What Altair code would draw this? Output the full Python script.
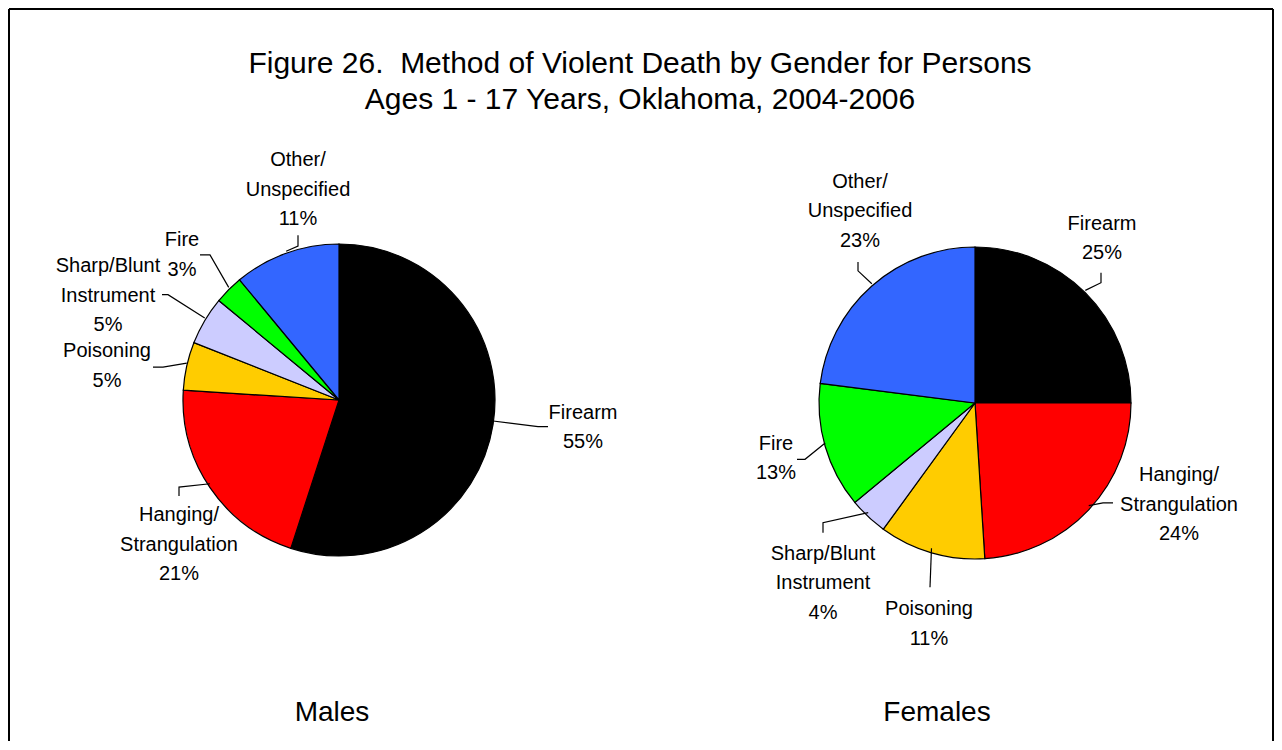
import altair as alt
import pandas as pd
import numpy as np

# ---------------- data ----------------
methods = ["Firearm", "Hanging/Strangulation", "Poisoning",
           "Sharp/Blunt Instrument", "Fire", "Other/Unspecified"]
label_text = ["Firearm", "Hanging/\nStrangulation", "Poisoning",
              "Sharp/Blunt\nInstrument", "Fire", "Other/\nUnspecified"]
males_pct = [55, 21, 5, 5, 3, 11]
females_pct = [25, 24, 11, 4, 13, 23]
colors = ["#000000", "#FF0000", "#FFCC00", "#CCCCFF", "#00FF00", "#3366FF"]
genders = ["Males", "Females"]
title_lines = ["Figure 26.\u00a0\u00a0Method of Violent Death by Gender for Persons",
               "Ages 1 - 17 Years, Oklahoma, 2004-2006"]

# ---------------- layout (canvas pixels) ----------------
W, H = 1266, 734
OFF = 8
R = 156
centers = {"Males": (339 - OFF, 400 - OFF), "Females": (975 - OFF, 403 - OFF)}
# label centre x and first-line baseline (page px)
label_pos = {
    "Males": [(583, 422), (179, 525), (107, 360), (108, 274), (182, 248), (298, 167)],
    "Females": [(1102, 231), (1179, 485), (929, 620), (823, 564), (776, 453), (860, 189)],
}
# leader line elbow and end (page px)
leader_pts = {
    "Males": [((538, 430), (548, 430)), ((179, 491), (179, 500)), ((163, 370), (153, 370)),
              ((168, 297), (162, 297)), ((210, 257), (200, 257)), ((298, 248), (298, 237))],
    "Females": [((1101, 285), (1101, 275)), ((1103, 507), (1113, 507)), ((930, 592), (930, 592)),
                ((823, 527), (823, 537)), ((805, 463), (797, 463)), ((858, 273), (858, 264))],
}
group_lbl = {"Males": (332, 727), "Females": (937, 727)}
LABEL_FS = 20
LABEL_LH = 29.5

# ---------------- tables ----------------
pie_rows, lab_rows, line_rows = [], [], []
for g, vals in zip(genders, [males_pct, females_pct]):
    cx, cy = centers[g]
    cum = 0
    for i, (m, lt, v) in enumerate(zip(methods, label_text, vals)):
        pie_rows.append({"gender": g, "method": m, "pct": v, "idx": i})
        mid = (cum + v / 2) / 100 * 2 * np.pi
        cum += v
        ex, ey = cx + R * np.sin(mid), cy - R * np.cos(mid)
        lx, ly = label_pos[g][i]
        lab_rows.append({"gender": g, "text": f"{lt}\n{v}%",
                         "x": lx - OFF, "y": ly - OFF - 0.79 * LABEL_FS})
        (bx, by), (tx, ty) = leader_pts[g][i]
        key = f"{g}-{i}"
        for s, (px, py) in enumerate([(ex, ey), (bx - OFF, by - OFF), (tx - OFF, ty - OFF)]):
            line_rows.append({"key": key, "seq": s, "x": px, "y": py})

pie_df = pd.DataFrame(pie_rows)
lab_df = pd.DataFrame(lab_rows)
line_df = pd.DataFrame(line_rows)
title_df = pd.DataFrame({"text": title_lines, "x": [640 - OFF] * 2,
                         "y": [74 - OFF, 110 - OFF]})
glab_df = pd.DataFrame({"text": genders,
                        "x": [group_lbl[g][0] - OFF for g in genders],
                        "y": [group_lbl[g][1] - OFF for g in genders]})
border_df = pd.DataFrame({"x": [1, 1, W - 1], "y": [H + 5, 1, 1],
                          "x2": [1, W - 1, W - 1], "y2": [1, 1, H + 5]})

xs = alt.Scale(domain=[0, W], nice=False, zero=False)
ys = alt.Scale(domain=[0, H], nice=False, zero=False, reverse=True)
X = lambda f: alt.X(f, type="quantitative", scale=xs, axis=None)
Y = lambda f: alt.Y(f, type="quantitative", scale=ys, axis=None)

layers = []
for g in genders:
    cx, cy = centers[g]
    layers.append(
        alt.Chart(pie_df[pie_df.gender == g]).mark_arc(
            radius=R, stroke="black", strokeWidth=1.2
        ).encode(
            theta=alt.Theta("pct:Q", stack=True),
            color=alt.Color("method:N", scale=alt.Scale(domain=methods, range=colors), legend=None),
            order=alt.Order("idx:Q"),
            x=alt.value(cx), y=alt.value(cy),
        )
    )

leaders = alt.Chart(line_df).mark_line(color="black", strokeWidth=1.2).encode(
    x=X("x"), y=Y("y"), detail="key:N", order="seq:Q")

labels = alt.Chart(lab_df).mark_text(
    align="center", baseline="top", fontSize=LABEL_FS, lineHeight=LABEL_LH,
    lineBreak="\n", font="Liberation Sans", color="black"
).encode(x=X("x"), y=Y("y"), text="text:N")

title = alt.Chart(title_df).mark_text(
    align="center", baseline="alphabetic", fontSize=30, font="Liberation Sans", color="black"
).encode(x=X("x"), y=Y("y"), text="text:N")

glabs = alt.Chart(glab_df).mark_text(
    align="center", baseline="alphabetic", fontSize=28, font="Liberation Sans", color="black"
).encode(x=X("x"), y=Y("y"), text="text:N")

border = alt.Chart(border_df).mark_rule(color="black", strokeWidth=2).encode(
    x=X("x"), y=Y("y"), x2="x2", y2="y2")

chart = alt.layer(*layers, leaders, labels, title, glabs, border).properties(
    width=W, height=H, padding=0, background="white",
    autosize=alt.AutoSizeParams(type="fit", contains="padding"),
).configure_view(stroke=None)

chart.save("out.html", embed_options={"renderer": "svg", "actions": False})
